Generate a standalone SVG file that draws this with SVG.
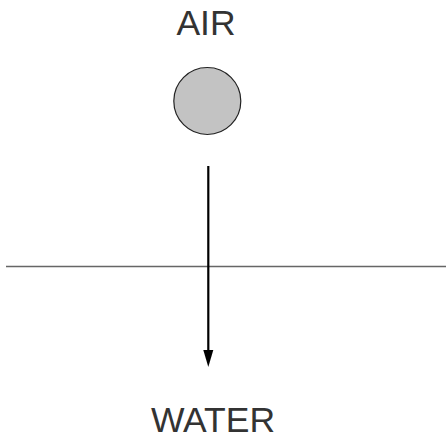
<svg xmlns="http://www.w3.org/2000/svg" width="446" height="436" viewBox="0 0 446 436">
<style>
.lbl{font-family:"Liberation Sans",Arial,sans-serif;font-size:35.5px;fill:#333;text-anchor:middle}
</style>
<rect width="446" height="436" fill="#fff"/>
<g id="air"><text class="lbl" x="206" y="35">AIR</text></g>
<g id="ball"><circle cx="207.3" cy="101" r="33.5" fill="#c3c3c3" stroke="#222" stroke-width="1.2"/></g>
<g id="surface"><line x1="6" y1="266.5" x2="446" y2="266.5" stroke="#666" stroke-width="1.3"/></g>
<g id="water"><text class="lbl" x="213" y="432">WATER</text></g>
<g id="connectors">
<line x1="208.3" y1="166" x2="208.3" y2="352" stroke="#000" stroke-width="2.2"/>
<path d="M203.3,350 L213.3,350 L208.3,367 Z" fill="#000"/>
</g>
</svg>
